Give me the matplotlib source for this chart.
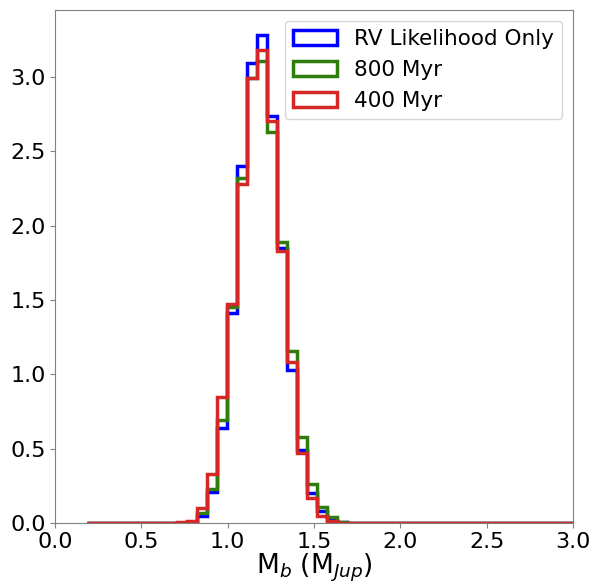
import numpy as np
import matplotlib.pyplot as plt

# bin edges of the mass posterior histograms (50 bins)
edges = 0.183 + 0.0579 * np.arange(51)

# normalised counts per bin (bins 9..25, the rest are zero)
rv_only = [0.003, 0.008, 0.05, 0.21, 0.64, 1.41, 2.40, 3.09, 3.28, 2.74, 1.85, 1.03, 0.49, 0.20, 0.08, 0.02, 0.005]
myr800 = [0.003, 0.01, 0.07, 0.23, 0.69, 1.45, 2.32, 2.99, 3.11, 2.63, 1.89, 1.16, 0.58, 0.26, 0.105, 0.04, 0.01]
myr400 = [0.004, 0.015, 0.10, 0.33, 0.845, 1.47, 2.28, 2.99, 3.18, 2.70, 1.83, 1.08, 0.47, 0.17, 0.05, 0.015, 0.003]
first_bin = 9


def full(vals):
    out = np.zeros(len(edges) - 1)
    out[first_bin:first_bin + len(vals)] = vals
    return out


fig, ax = plt.subplots(figsize=(6, 5.86), dpi=100)
fig.subplots_adjust(left=0.0917, right=0.955, top=0.983, bottom=0.1075)

centers = edges[:-1]
ax.hist(centers, bins=edges, weights=full(rv_only), histtype='step', color='blue', lw=2.5, label='RV Likelihood Only')
ax.hist(centers, bins=edges, weights=full(myr800), histtype='step', color='#2e7d0e', lw=2.5, label='800 Myr')
ax.hist(centers, bins=edges, weights=full(myr400), histtype='step', color='#d62728', lw=2.5, label='400 Myr')

ax.set_xlim(0, 3.0)
ax.set_ylim(0, 3.45)
ax.set_xticks(np.arange(0, 3.01, 0.5))
ax.set_yticks(np.arange(0, 3.01, 0.5))
ax.tick_params(labelsize=16, color='gray', pad=3)
for s in ax.spines.values():
    s.set_color('gray')
ax.set_xlabel(r'M$_b$ (M$_{Jup}$)', fontsize=19, labelpad=0)
ax.legend(loc='upper right', fontsize=15.5, handlelength=2.0, borderaxespad=0.5)

fig.savefig('out.png')
